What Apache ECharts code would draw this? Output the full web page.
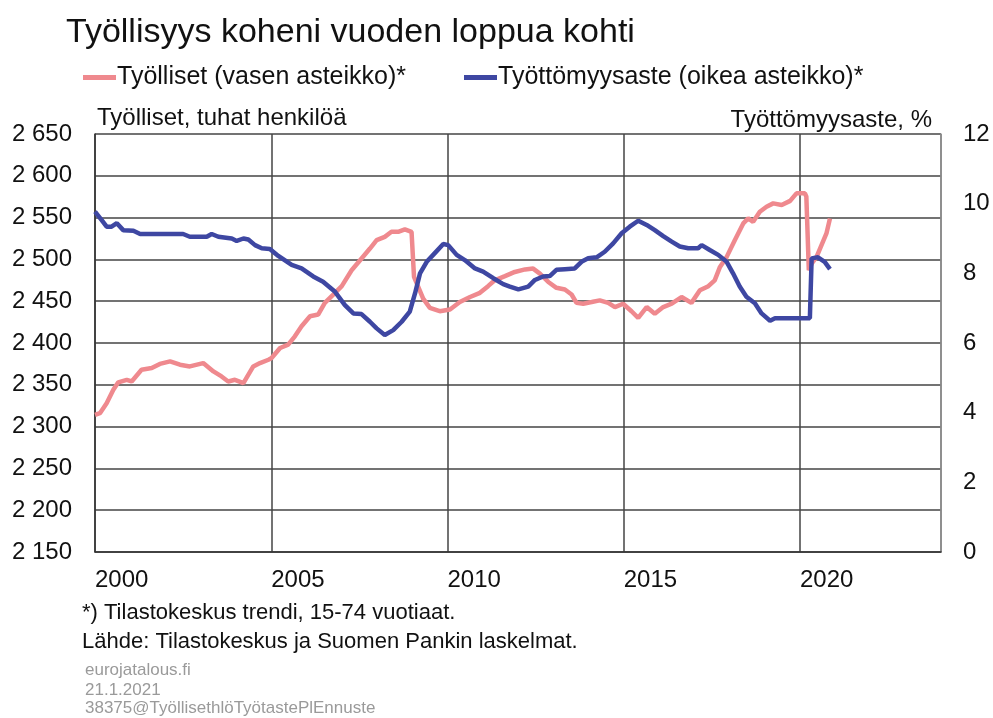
<!DOCTYPE html>
<html>
<head>
<meta charset="utf-8">
<title>Työllisyys koheni vuoden loppua kohti</title>
<script src="https://cdn.jsdelivr.net/npm/echarts@6/dist/echarts.min.js"></script>
<style>
  html, body { margin: 0; padding: 0; background: #fff; }
  #chart { width: 993px; height: 718px; }
</style>
</head>
<body>
<div id="chart"></div>
<script>
  'use strict';

  /*Työlliset, tuhat henkilöä (vasen asteikko)*/
  var tyollisetAika = [2000.00, 2000.14, 2000.33, 2000.52, 2000.66, 2000.90, 2001.04, 2001.32, 2001.61, 2001.84,
    2002.13, 2002.41, 2002.69, 2003.07, 2003.36, 2003.59, 2003.78, 2003.97, 2004.21, 2004.49,
    2004.68, 2004.92, 2005.01, 2005.25, 2005.48, 2005.67, 2005.86, 2006.10, 2006.33, 2006.52,
    2006.81, 2007.00, 2007.28, 2007.52, 2007.80, 2007.99, 2008.22, 2008.41, 2008.60, 2008.79,
    2008.98, 2009.05, 2009.17, 2009.31, 2009.50, 2009.78, 2010.07, 2010.35, 2010.64, 2010.92,
    2011.15, 2011.34, 2011.63, 2011.91, 2012.20, 2012.43, 2012.62, 2012.86, 2013.09, 2013.33,
    2013.52, 2013.66, 2013.85, 2014.09, 2014.32, 2014.56, 2014.75, 2014.98, 2015.22, 2015.41,
    2015.65, 2015.88, 2016.12, 2016.36, 2016.64, 2016.92, 2017.16, 2017.40, 2017.58, 2017.73,
    2017.92, 2018.15, 2018.39, 2018.53, 2018.67, 2018.86, 2019.05, 2019.24, 2019.48, 2019.72,
    2019.90, 2020.14, 2020.18, 2020.25, 2020.33, 2020.47, 2020.61, 2020.75, 2020.85];
  var tyollisetArvo = [2314, 2316, 2328, 2344, 2353, 2356, 2354, 2368, 2370, 2375,
    2378, 2374, 2372, 2376, 2366, 2360, 2354, 2356, 2352, 2372,
    2376, 2380, 2382, 2394, 2398, 2408, 2420, 2432, 2434, 2448,
    2460, 2468, 2487, 2499, 2513, 2523, 2527, 2533, 2533, 2536,
    2533, 2479, 2467, 2453, 2442, 2438, 2440, 2449, 2455, 2460,
    2468, 2475, 2480, 2485, 2488, 2489, 2483, 2473, 2466, 2464,
    2458, 2448, 2447, 2449, 2451, 2448, 2443, 2447, 2438, 2430,
    2443, 2435, 2443, 2447, 2455, 2448, 2463, 2468, 2475, 2491,
    2503, 2523, 2543, 2549, 2545, 2557, 2563, 2567, 2565, 2570,
    2579, 2579, 2575, 2487, 2495, 2503, 2517, 2531, 2549];

  /*Työttömyysaste, % (oikea asteikko)*/
  var tyottomyysAika = [2000.00, 2000.19, 2000.33, 2000.47, 2000.62, 2000.80, 2001.09, 2001.28, 2002.50, 2002.69,
    2003.17, 2003.31, 2003.50, 2003.88, 2004.02, 2004.21, 2004.35, 2004.54, 2004.73, 2004.96,
    2005.20, 2005.58, 2005.86, 2006.19, 2006.47, 2006.81, 2007.09, 2007.33, 2007.56, 2007.80,
    2007.99, 2008.22, 2008.46, 2008.70, 2008.93, 2009.08, 2009.22, 2009.41, 2009.64, 2009.88,
    2010.02, 2010.26, 2010.49, 2010.78, 2011.01, 2011.30, 2011.58, 2011.77, 2012.01, 2012.29,
    2012.48, 2012.71, 2012.90, 2013.09, 2013.33, 2013.61, 2013.80, 2013.99, 2014.23, 2014.46,
    2014.70, 2014.94, 2015.17, 2015.41, 2015.65, 2015.88, 2016.12, 2016.36, 2016.59, 2016.83,
    2017.11, 2017.21, 2017.44, 2017.68, 2017.92, 2018.10, 2018.29, 2018.48, 2018.72, 2018.91,
    2019.15, 2019.29, 2020.28, 2020.33, 2020.51, 2020.70, 2020.85];
  var tyottomyysArvo = [9.77, 9.53, 9.34, 9.34, 9.44, 9.24, 9.22, 9.13, 9.13, 9.05,
    9.05, 9.13, 9.05, 9.00, 8.93, 9.00, 8.97, 8.81, 8.72, 8.70,
    8.50, 8.24, 8.14, 7.91, 7.76, 7.47, 7.09, 6.85, 6.83, 6.61,
    6.42, 6.23, 6.37, 6.61, 6.90, 7.43, 8.00, 8.33, 8.58, 8.84,
    8.81, 8.53, 8.38, 8.14, 8.05, 7.86, 7.69, 7.62, 7.54, 7.62,
    7.81, 7.91, 7.92, 8.10, 8.12, 8.14, 8.33, 8.43, 8.46, 8.62,
    8.86, 9.15, 9.34, 9.51, 9.39, 9.24, 9.07, 8.91, 8.77, 8.72,
    8.72, 8.81, 8.67, 8.53, 8.33, 8.00, 7.62, 7.33, 7.14, 6.85,
    6.64, 6.71, 6.71, 8.43, 8.46, 8.33, 8.12];

  var vasenAsteikko = {min: 2150, max: 2650, step: 50};
  var oikeaAsteikko = {min: 0, max: 12, step: 2};
  var vuosiAsteikko = {min: 2000, max: 2024, step: 5};

  var fontti = '"Liberation Sans", Arial, sans-serif';

  var parit = function (x, y){
    return x.map(function (v, i){ return [v, y[i]]; });
  };

  var myChart = echarts.init(document.getElementById('chart'), null, {renderer: 'canvas'});
  var option = {
    backgroundColor: '#fff',
    animation: false,
    textStyle: {fontFamily: fontti, color: '#111'},
    title: {
      text: 'Työllisyys koheni vuoden loppua kohti',
      left: 61,
      top: 11,
      textStyle: {fontSize: 34, fontWeight: 'normal', color: '#111', fontFamily: fontti}
    },
    legend: {
      left: 78,
      top: 60,
      icon: 'rect',
      itemWidth: 33,
      itemHeight: 5,
      itemGap: 58,
      textStyle: {fontSize: 25, color: '#111', fontFamily: fontti, padding: [0, 0, 0, -4]},
      data: ['Työlliset (vasen asteikko)*', 'Työttömyysaste (oikea asteikko)*']
    },
    grid: {
      left: 95,
      right: 52,
      top: 134,
      bottom: 166
    },
    xAxis: {
      type: 'value',
      min: vuosiAsteikko.min,
      max: vuosiAsteikko.max,
      interval: vuosiAsteikko.step,
      axisLine: {show: true, lineStyle: {color: '#333', width: 1.5}},
      axisTick: {show: false},
      axisLabel: {
        align: 'left',
        margin: 16,
        fontSize: 24,
        color: '#111',
        showMaxLabel: false,
        formatter: function (v){ return v % 5 === 0 ? String(v) : ''; }
      },
      splitLine: {show: true, lineStyle: {color: '#444', width: 1.5}}
    },
    yAxis: [
      {
        type: 'value',
        position: 'left',
        min: vasenAsteikko.min,
        max: vasenAsteikko.max,
        interval: vasenAsteikko.step,
        axisLine: {show: true, lineStyle: {color: '#333', width: 1.5}},
        axisTick: {show: false},
        axisLabel: {
          margin: 23,
          fontSize: 24,
          color: '#111',
          formatter: function (v){ return String(v).replace(/\B(?=(\d{3})+(?!\d))/g, ' '); }
        },
        splitLine: {show: true, lineStyle: {color: '#444', width: 1.5}}
      },
      {
        type: 'value',
        position: 'right',
        min: oikeaAsteikko.min,
        max: oikeaAsteikko.max,
        interval: oikeaAsteikko.step,
        axisLine: {show: true, lineStyle: {color: '#999', width: 1.5}},
        axisTick: {show: false},
        axisLabel: {align: 'left', margin: 22, fontSize: 24, color: '#111'},
        splitLine: {show: false}
      }
    ],
    series: [
      {
        name: 'Työlliset (vasen asteikko)*',
        type: 'line',
        yAxisIndex: 0,
        symbol: 'none',
        color: '#EF898E',
        lineStyle: {width: 4.5, color: '#EF898E'},
        data: parit(tyollisetAika, tyollisetArvo)
      },
      {
        name: 'Työttömyysaste (oikea asteikko)*',
        type: 'line',
        yAxisIndex: 1,
        symbol: 'none',
        color: '#3E47A2',
        lineStyle: {width: 4.5, color: '#3E47A2'},
        data: parit(tyottomyysAika, tyottomyysArvo)
      }
    ],
    graphic: [
      {type: 'text', left: 97, top: 106, style: {text: 'Työlliset, tuhat henkilöä', fontSize: 24, fontFamily: fontti, fill: '#111'}},
      {type: 'text', right: 61, top: 108, style: {text: 'Työttömyysaste, %', fontSize: 24, fontFamily: fontti, fill: '#111'}},
      {type: 'text', left: 82, top: 602, style: {text: '*) Tilastokeskus trendi, 15-74 vuotiaat.', fontSize: 22, fontFamily: fontti, fill: '#111'}},
      {type: 'text', left: 82, top: 631, style: {text: 'Lähde: Tilastokeskus ja Suomen Pankin laskelmat.', fontSize: 22, fontFamily: fontti, fill: '#111'}},
      {type: 'text', left: 85, top: 662, style: {text: 'eurojatalous.fi', fontSize: 17, fontFamily: fontti, fill: '#9a9a9a'}},
      {type: 'text', left: 85, top: 682, style: {text: '21.1.2021', fontSize: 17, fontFamily: fontti, fill: '#9a9a9a'}},
      {type: 'text', left: 85, top: 700, style: {text: '38375@TyöllisethlöTyötastePlEnnuste', fontSize: 17, fontFamily: fontti, fill: '#9a9a9a'}}
    ]
  };

  myChart.setOption(option);
</script>
</body>
</html>
